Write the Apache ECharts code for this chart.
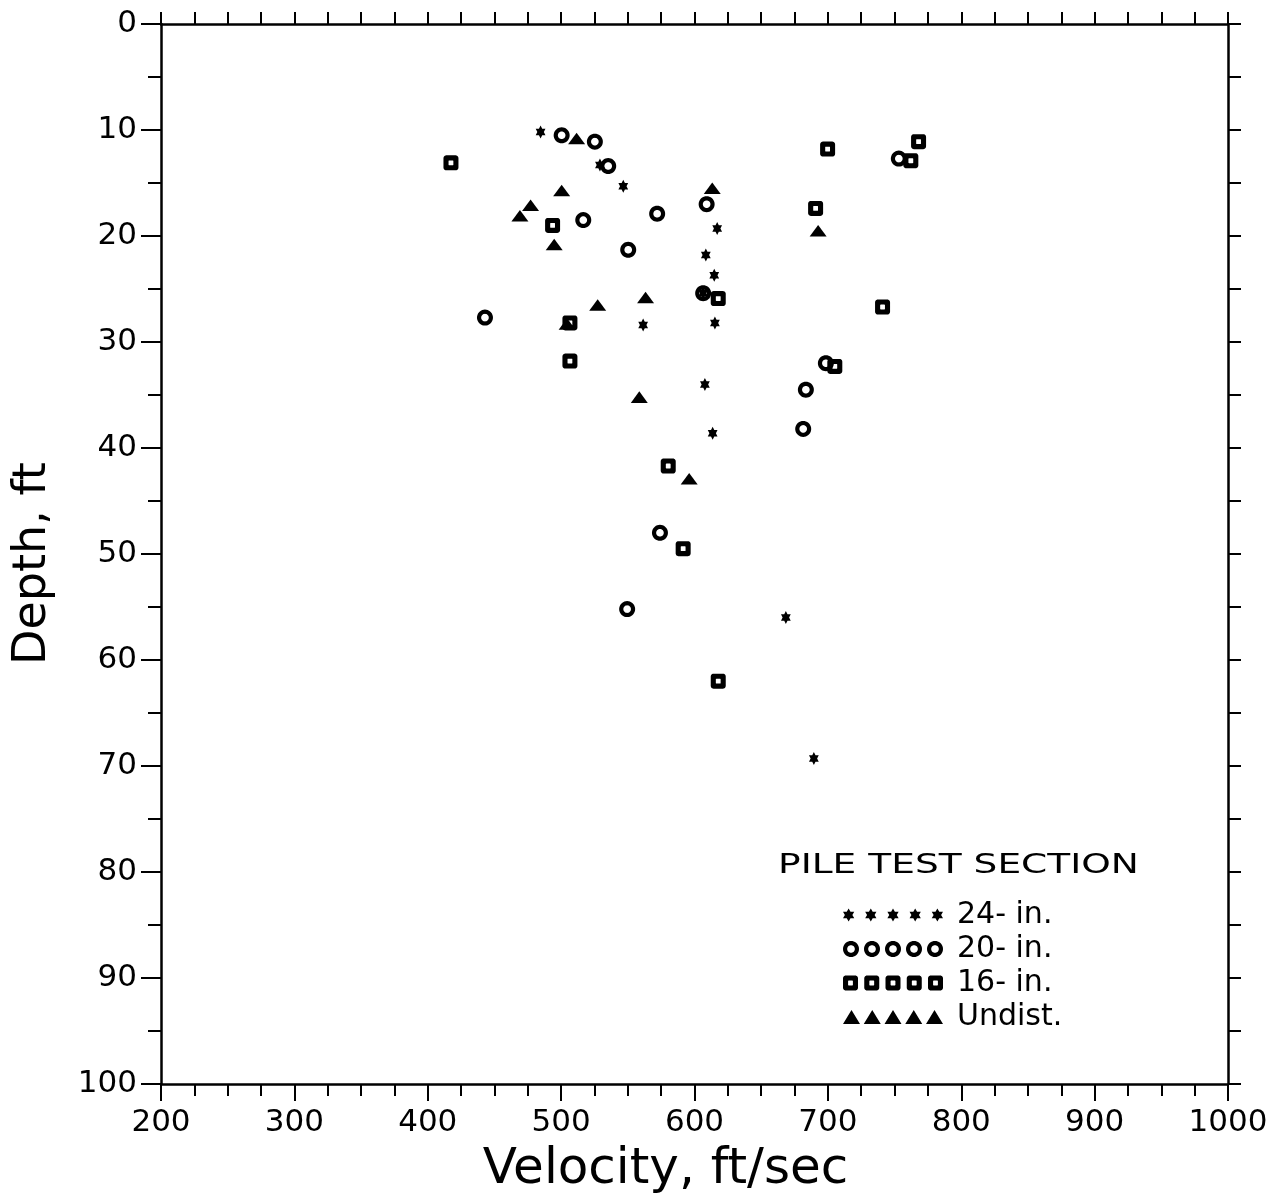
<!DOCTYPE html>
<html>
<head>
<meta charset="utf-8">
<script src="https://cdn.jsdelivr.net/npm/echarts@6/dist/echarts.min.js"></script>
<style>
html,body{margin:0;padding:0;background:#fff;}
#main{width:1271px;height:1201px;}
</style>
</head>
<body>
<div id="main"></div>
<script>
// velocity (ft/sec) / depth (ft), one pair per pile size
var vel24 = [484.6, 529.1, 546.6, 617.0, 608.5, 614.8, 606.5, 561.5, 615.3, 607.8, 613.6, 668.5, 689.5];
var dep24 = [10.2, 13.3, 15.3, 19.3, 21.8, 23.7, 25.4, 28.4, 28.2, 34.0, 38.6, 56.0, 69.3];

var vel20 = [500.4, 525.3, 535.3, 572.0, 609.1, 516.6, 550.3, 442.9, 606.5, 698.5, 683.5, 681.5, 574.1, 549.5, 753.2];
var dep20 = [10.5, 11.1, 13.4, 17.9, 17.0, 18.5, 21.3, 27.7, 25.4, 32.0, 34.5, 38.2, 48.0, 55.2, 12.7];

var vel16 = [417.4, 493.6, 617.8, 506.6, 506.6, 699.8, 768.0, 762.2, 690.8, 741.0, 705.2, 580.3, 591.5, 617.8];
var dep16 = [13.1, 19.0, 25.9, 28.2, 31.8, 11.8, 11.1, 12.9, 17.4, 26.7, 32.3, 41.7, 49.5, 62.0];

var velUn = [511.6, 613.3, 500.4, 477.1, 469.1, 494.8, 692.7, 563.3, 527.4, 504.5, 558.6, 596.0];
var depUn = [10.8, 15.5, 15.7, 17.1, 18.1, 20.8, 19.5, 25.8, 26.5, 28.3, 35.2, 42.9];

var seriesNames = ['24- in.', '20- in.', '16- in.', 'Undist.'];
var xTicks = [200, 1000, 100];
var yTicks = [0, 100, 10];

var FONT = 'DejaVu Sans';

function pair(xs, ys) {
  return xs.map(function (x, i) { return [x, ys[i]]; });
}

// ---- symbol outlines (filled shapes, holes by reversed winding) ----
function toPath(p) {
  var s = 'M' + p[0][0].toFixed(2) + ' ' + p[0][1].toFixed(2);
  for (var i = 1; i < p.length; i++) s += ' L' + p[i][0].toFixed(2) + ' ' + p[i][1].toFixed(2);
  return s + ' Z ';
}
function circlePts(cx, cy, r, rev) {
  var p = [];
  for (var k = 0; k < 36; k++) {
    var a = k * 10 * Math.PI / 180;
    p.push([cx + r * Math.cos(a), cy + r * Math.sin(a)]);
  }
  if (rev) p.reverse();
  return p;
}
function rsqPts(cx, cy, h, rad, rev) {
  var p = [];
  var cs = [[h - rad, h - rad, 0], [-(h - rad), h - rad, 90], [-(h - rad), -(h - rad), 180], [h - rad, -(h - rad), 270]];
  cs.forEach(function (c) {
    for (var k = 0; k <= 6; k++) {
      var a = (c[2] + k * 15) * Math.PI / 180;
      p.push([cx + c[0] + rad * Math.cos(a), cy + c[1] + rad * Math.sin(a)]);
    }
  });
  if (rev) p.reverse();
  return p;
}
function star(cx, cy) {
  var p = [];
  for (var k = 0; k < 12; k++) {
    var a = (-90 + 30 * k) * Math.PI / 180;
    var r = k % 2 === 0 ? 6.5 : 6.5 / Math.sqrt(3);
    p.push([cx + r * Math.cos(a), cy + r * Math.sin(a)]);
  }
  return toPath(p);
}
function ring(cx, cy) {
  return toPath(circlePts(cx, cy, 8, false)) + toPath(circlePts(cx, cy, 3.8, true));
}
function box(cx, cy) {
  return toPath(rsqPts(cx, cy, 7.5, 2.8, false)) + toPath(rsqPts(cx, cy, 2.4, 0.6, true));
}
function tri(cx, cy) {
  return toPath([[cx, cy - 7], [cx + 8.5, cy + 7], [cx - 8.5, cy + 7]]);
}

var shapes = [
  { fn: star, w: 11.26, h: 13 },
  { fn: ring, w: 16, h: 16 },
  { fn: box, w: 15, h: 15 },
  { fn: tri, w: 17, h: 14 }
];
function legendIcon(s) {
  // five symbols across a 100px wide strip
  var pitch = (100 - s.w) / 4, d = '';
  for (var i = 0; i < 5; i++) d += s.fn(s.w / 2 + i * pitch, 0);
  return 'path://' + d;
}

var allData = [pair(vel24, dep24), pair(vel20, dep20), pair(vel16, dep16), pair(velUn, depUn)];

var series = allData.map(function (d, i) {
  return {
    name: seriesNames[i],
    type: 'scatter',
    xAxisIndex: 0,
    yAxisIndex: 0,
    data: d,
    symbol: 'path://' + shapes[i].fn(0, 0),
    symbolSize: [shapes[i].w, shapes[i].h],
    symbolKeepAspect: true,
    itemStyle: { color: '#000', opacity: 1 },
    emphasis: { disabled: true },
    silent: true
  };
});

var blackLine = { color: '#000', width: 2.5 };
var blackTick = { color: '#000', width: 2 };

var chart = echarts.init(document.getElementById('main'));
var option = {
  animation: false,
  backgroundColor: '#fff',
  grid: { left: 161, right: 43, top: 24, bottom: 117, containLabel: false, outerBoundsMode: 'none' },
  legend: {
    orient: 'vertical',
    left: 843,
    top: 898,
    padding: 0,
    itemGap: 0,
    itemWidth: 100,
    itemHeight: 16,
    symbolKeepAspect: true,
    selectedMode: false,
    itemStyle: { opacity: 1 },
    textStyle: { fontFamily: FONT, fontSize: 30, color: '#000', lineHeight: 34, padding: [0, 0, 0, 9] },
    data: seriesNames.map(function (n, i) { return { name: n, icon: legendIcon(shapes[i]) }; })
  },
  graphic: [{
    type: 'text',
    x: 778,
    y: 866,
    scaleX: 1.39,
    style: { text: 'PILE TEST SECTION', fontFamily: FONT, fontSize: 27, fill: '#000', align: 'left', verticalAlign: 'middle' }
  }],
  xAxis: [{
    type: 'value',
    position: 'bottom',
    min: xTicks[0], max: xTicks[1], interval: xTicks[2],
    name: 'Velocity, ft/sec',
    nameLocation: 'middle',
    nameGap: 61,
    nameTextStyle: { fontFamily: FONT, fontSize: 50, color: '#000', padding: [0, 58, 0, 0] },
    axisLine: { show: true, onZero: false, lineStyle: blackLine },
    axisTick: { show: true, length: 17, lineStyle: blackTick },
    minorTick: { show: true, splitNumber: 4, length: 12, lineStyle: blackTick },
    axisLabel: { fontFamily: FONT, fontSize: 31, color: '#000', margin: 23, formatter: function (v) { return String(v); } },
    splitLine: { show: false },
    minorSplitLine: { show: false }
  }, {
    type: 'value',
    position: 'top',
    min: xTicks[0], max: xTicks[1], interval: 25,
    axisLine: { show: true, onZero: false, lineStyle: blackLine },
    axisTick: { show: true, length: 12, lineStyle: blackTick },
    axisLabel: { show: false },
    splitLine: { show: false }
  }],
  yAxis: [{
    type: 'value',
    position: 'left',
    inverse: true,
    min: yTicks[0], max: yTicks[1], interval: yTicks[2],
    name: 'Depth, ft',
    nameLocation: 'middle',
    nameRotate: 90,
    nameGap: 105,
    nameTextStyle: { fontFamily: FONT, fontSize: 46, color: '#000', padding: [0, 19, 0, 0] },
    axisLine: { show: true, onZero: false, lineStyle: blackLine },
    axisTick: { show: true, length: 20, lineStyle: blackTick },
    minorTick: { show: true, splitNumber: 2, length: 13, lineStyle: blackTick },
    axisLabel: { fontFamily: FONT, fontSize: 31, color: '#000', margin: 24, formatter: function (v) { return String(v); } },
    splitLine: { show: false },
    minorSplitLine: { show: false }
  }, {
    type: 'value',
    position: 'right',
    inverse: true,
    min: yTicks[0], max: yTicks[1], interval: 5,
    axisLine: { show: true, onZero: false, lineStyle: blackLine },
    axisTick: { show: true, length: 13, lineStyle: blackTick },
    axisLabel: { show: false },
    splitLine: { show: false }
  }],
  series: series
};
chart.setOption(option);
window.onresize = chart.resize;
</script>
</body>
</html>
